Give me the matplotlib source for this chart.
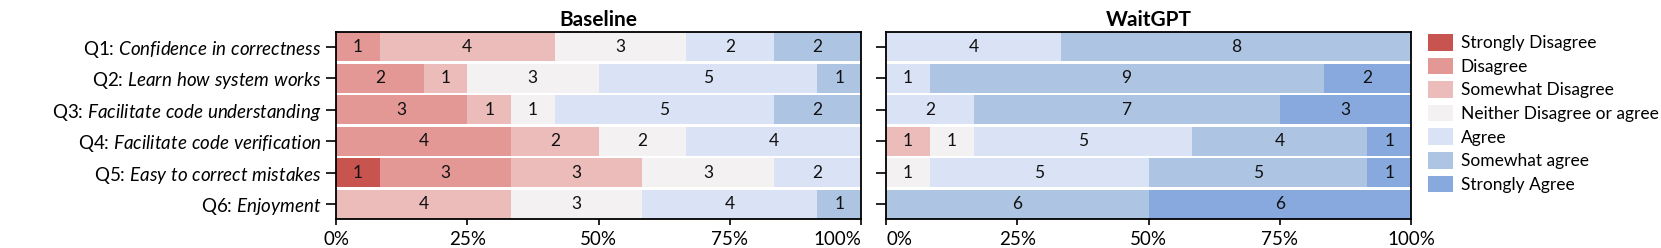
import matplotlib
matplotlib.use("Agg")
import matplotlib.pyplot as plt
import numpy as np

plt.rcParams['font.family'] = 'Lato'
plt.rcParams['mathtext.fontset'] = 'custom'
plt.rcParams['mathtext.rm'] = 'Lato'
plt.rcParams['mathtext.it'] = 'Lato:italic'

# likert categories and colours
cats = ['Strongly Disagree', 'Disagree', 'Somewhat Disagree',
        'Neither Disagree or agree', 'Agree', 'Somewhat agree', 'Strongly Agree']
colors = ['#c85450', '#e39896', '#ecbcbb', '#f3f1f2', '#dae2f5', '#aec4e3', '#88a9de']

questions = ['Q1', 'Q2', 'Q3', 'Q4', 'Q5', 'Q6']
q_text = ['Confidence in correctness', 'Learn how system works',
          'Facilitate code understanding', 'Facilitate code verification',
          'Easy to correct mistakes', 'Enjoyment']

# counts per question, columns follow cats
baseline = np.array([
    [0, 1, 4, 3, 2, 2, 0],
    [0, 2, 1, 3, 5, 1, 0],
    [0, 3, 1, 1, 5, 2, 0],
    [0, 4, 2, 2, 4, 0, 0],
    [1, 3, 3, 3, 2, 0, 0],
    [0, 0, 4, 3, 4, 1, 0],
])
waitgpt = np.array([
    [0, 0, 0, 0, 4, 8, 0],
    [0, 0, 0, 0, 1, 9, 2],
    [0, 0, 0, 0, 2, 7, 3],
    [0, 0, 1, 1, 5, 4, 1],
    [0, 0, 0, 1, 5, 5, 1],
    [0, 0, 0, 0, 0, 6, 6],
])

fig = plt.figure(figsize=(16.61, 2.48), dpi=100)
ax1 = fig.add_axes([336 / 1661, 1 - 219 / 248, 525 / 1661, 187 / 248])
ax2 = fig.add_axes([886 / 1661, 1 - 219 / 248, 525 / 1661, 187 / 248])

ypos = np.arange(len(questions))
h = 0.92

for ax, data, title in [(ax1, baseline, 'Baseline'), (ax2, waitgpt, 'WaitGPT')]:
    totals = data.sum(axis=1)
    pct = data / totals[:, None] * 100
    left = np.zeros(len(questions))
    for j, cat in enumerate(cats):
        ax.barh(ypos, pct[:, j], left=left, height=h, color=colors[j],
                label=cat, linewidth=0)
        for i in range(len(questions)):
            if data[i, j] > 0:
                ax.text(left[i] + pct[i, j] / 2, ypos[i], str(data[i, j]),
                        ha='center', va='center', fontsize=12.5, color='#111111')
        left += pct[:, j]
    ax.set_xlim(0, 100)
    ax.set_ylim(len(questions) - 1 + h / 2, -h / 2)
    ax.set_xticks([0, 25, 50, 75, 100])
    ax.set_xticklabels(['0%', '25%', '50%', '75%', '100%'], fontsize=13.5)
    ax.set_yticks(ypos)
    ax.set_title(title, fontsize=15, fontweight='bold', pad=4)
    ax.tick_params(axis='y', length=7, width=1.2)
    ax.tick_params(axis='x', length=4.5, width=1.2, pad=4)
    for s in ax.spines.values():
        s.set_linewidth(1.3)

# keep the two neighbouring percentage labels apart
ax1.get_xticklabels()[-1].set_ha('right')
ax2.get_xticklabels()[0].set_ha('left')

labels = [q + ': $\\mathit{' + t.replace(' ', '\\ ') + '}$' for q, t in zip(questions, q_text)]
ax1.set_yticklabels(labels, fontsize=13.5)
ax2.set_yticklabels([])

handles, lbls = ax1.get_legend_handles_labels()
fig.legend(handles, lbls, loc='upper left', bbox_to_anchor=(1428 / 1661, 1 - 34 / 248),
           frameon=False, fontsize=12.5, borderpad=0, borderaxespad=0,
           handlelength=1.44, handleheight=1.09, labelspacing=0.37, handletextpad=0.45)

fig.savefig('out.png', dpi=100)
